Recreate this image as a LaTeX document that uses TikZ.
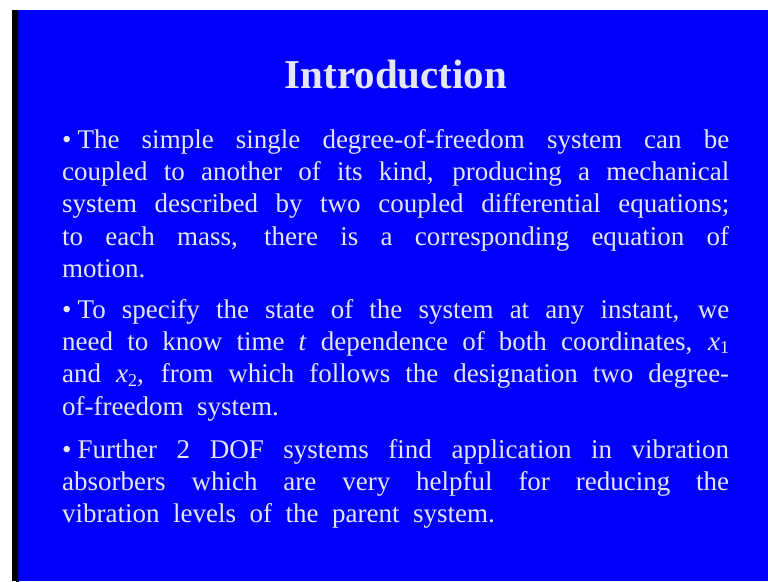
\documentclass[tikz,border=0pt]{standalone}
\usepackage{fontspec}
\setmainfont{Liberation Serif}
\definecolor{slideblue}{RGB}{0,0,250}
\definecolor{slidetext}{RGB}{228,230,248}
\tikzset{
  para/.style={anchor=north west, inner sep=0pt, text width=667pt, align=justify,
    text=slidetext, font=\fontsize{27}{32.3}\selectfont},
  ttl/.style={anchor=base, inner sep=0pt, text=slidetext, font=\fontsize{41}{48}\selectfont\bfseries}
}
\newcommand{\xs}[1]{\textit{x}\raisebox{-0.28ex}{\fontsize{18}{18}\selectfont #1}}
\newcommand{\bul}{\textbullet\hspace{6pt}}
\newcommand{\wide}[1]{{\spaceskip=0.5em plus 0.1em minus 0.1em #1}}
\begin{document}
\begin{tikzpicture}[x=1pt,y=1pt]
\useasboundingbox (0,0) rectangle (768,-581);
\fill[white] (0,0) rectangle (768,-581);
\fill[slideblue] (12,-10) rectangle (768,-581);
\fill[black] (12,-10) rectangle (16,-581);
\shade[left color=black, right color=slideblue] (16,-10) rectangle (19,-581);
\node[ttl] (title) at (396,-88) {Introduction};
\node[para] (p1) at (62,-129) {\bul The simple single degree-of-freedom system can be\linebreak
coupled to another of its kind, producing a mechanical\linebreak
system described by two coupled differential equations;\linebreak
to each mass, there is a corresponding equation of\linebreak
motion.};
\node[para] (p2) at (62,-299) {\bul To specify the state of the system at any instant, we\linebreak
need to know time \textit{t} dependence of both coordinates, \xs{1}\linebreak
and \xs{2}, from which follows the designation two degree-\linebreak
\wide{of-freedom system.}};
\node[para] (p3) at (62,-439) {\bul Further 2 DOF systems find application in vibration\linebreak
absorbers which are very helpful for reducing the\linebreak
\wide{vibration levels of the parent system.}};
\end{tikzpicture}
\end{document}
